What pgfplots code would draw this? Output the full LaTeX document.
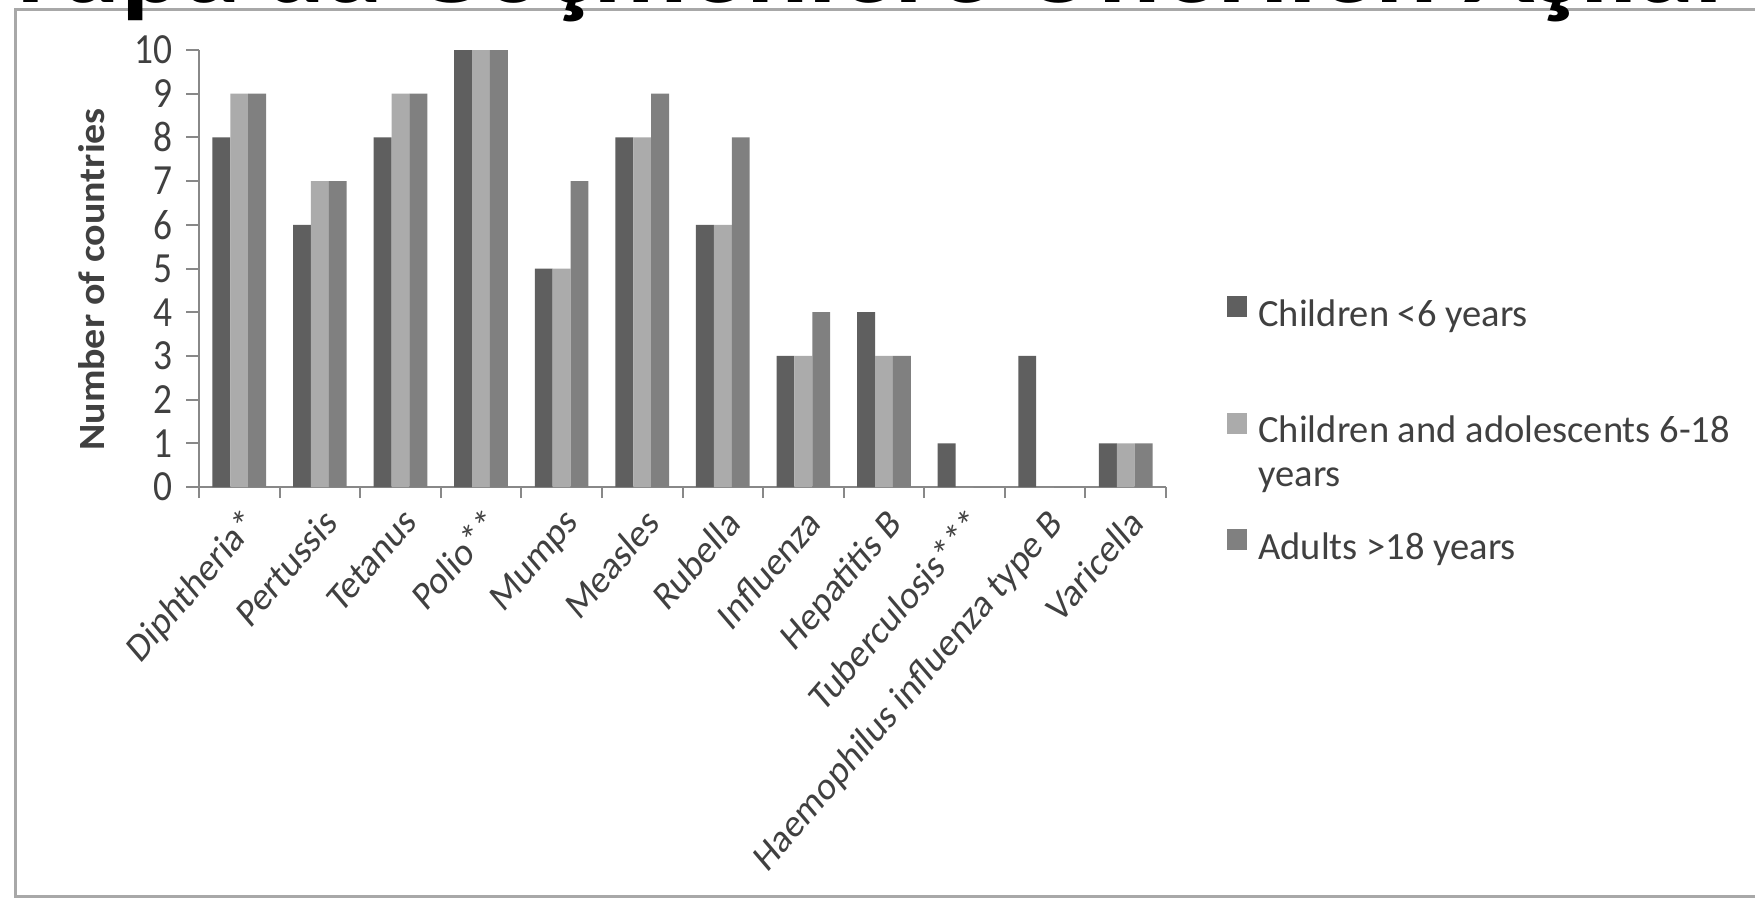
\documentclass[border=0pt]{standalone}
\usepackage{fontspec}
\setmainfont{Carlito}
\usepackage{pgfplots}
\pgfplotsset{compat=1.18}

\definecolor{cA}{HTML}{5F5F5F}
\definecolor{cB}{HTML}{ABABAB}
\definecolor{cC}{HTML}{808080}
\definecolor{axisgray}{HTML}{888888}
\definecolor{txt}{HTML}{404040}
\definecolor{framegray}{HTML}{A8A8A8}

\begin{document}
\begin{tikzpicture}
\useasboundingbox (0pt,0pt) rectangle (877.5pt,-449.5pt);
\clip (0pt,0pt) rectangle (877.5pt,-449.5pt);
\fill[white] (0pt,0pt) rectangle (877.5pt,-449.5pt);
% slide frame
\draw[line width=1.5pt, framegray] (7.5pt,-5pt) rectangle (900pt,-448pt);
% slide title
\node[anchor=base west, inner sep=0pt, font=\fontsize{58pt}{60pt}\selectfont\bfseries]
  at (-52.5pt,-1.5pt) {Avrupa'da Göçmenlere Önerilen Aşılar};

\begin{axis}[
  at={(99.5pt,-243.5pt)}, anchor=south west,
  scale only axis, width=483.5pt, height=218.5pt,
  xmin=-0.5, xmax=11.5, ymin=0, ymax=10,
  axis lines*=left,
  axis line style={axisgray, line width=1pt},
  ybar=0pt, bar width=8.95pt,
  xtick={0,...,11},
  xticklabels={Diphtheria*, Pertussis, Tetanus, Polio**, Mumps, Measles, Rubella,
    Influenza, Hepatitis B, Tuberculosis***, Haemophilus influenza type B, Varicella},
  minor xtick={-0.5,0.5,...,11.5},
  major x tick style={draw=none},
  ytick={0,...,10},
  tick align=outside,
  major tick length=6.5pt, minor tick length=5.5pt,
  tick style={axisgray, line width=1pt},
  /pgf/number format/assume math mode=true,
  tick label style={font=\fontsize{18.7pt}{22pt}\selectfont, text=txt},
  yticklabel style={anchor=east, inner sep=0pt, xshift=-6.8pt, yscale=1.15},
  xticklabel style={xshift=1pt, yshift=-2.5pt, yscale=1.17, rotate=45,
    anchor=north east, inner sep=0pt, font=\fontsize{17.4pt}{20pt}\selectfont},
  ylabel={Number of countries},
  every axis y label/.style={at={(axis description cs:-0.1107,0.475)}, rotate=90, xscale=1.08,
    anchor=center, font=\fontsize{18.5pt}{22pt}\selectfont\bfseries, text=txt},
  legend style={draw=none, fill=none, at={(1.0631,0.4375)}, anchor=north west,
    inner sep=0pt, row sep=39.25pt, column sep=5.5pt,
    nodes={inner sep=0pt, text=txt, text height=14pt, text depth=4pt},
    font=\fontsize{19.25pt}{22pt}\selectfont},
  legend cell align=left,
]
\addplot[fill=cA, draw=none,
  legend image code/.code={\fill[cA] (0pt,-0.5pt) rectangle (10pt,10pt);}]
  coordinates {(0,8) (1,6) (2,8) (3,10) (4,5) (5,8) (6,6) (7,3) (8,4) (9,1) (10,3) (11,1)};
\addlegendentry{Children <6 years}
\addplot[fill=cB, draw=none,
  legend image code/.code={\fill[cB] (0pt,-0.5pt) rectangle (10pt,10pt);}]
  coordinates {(0,9) (1,7) (2,9) (3,10) (4,5) (5,8) (6,6) (7,3) (8,3) (9,0) (10,0) (11,1)};
\addlegendentry{\begin{tabular}[t]{@{}l@{}}Children and adolescents 6-18\\years\end{tabular}}
\addplot[fill=cC, draw=none,
  legend image code/.code={\fill[cC] (0pt,-0.5pt) rectangle (10pt,10pt);}]
  coordinates {(0,9) (1,7) (2,9) (3,10) (4,7) (5,9) (6,8) (7,4) (8,3) (9,0) (10,0) (11,1)};
\addlegendentry{Adults >18 years}
\end{axis}
\end{tikzpicture}
\end{document}
